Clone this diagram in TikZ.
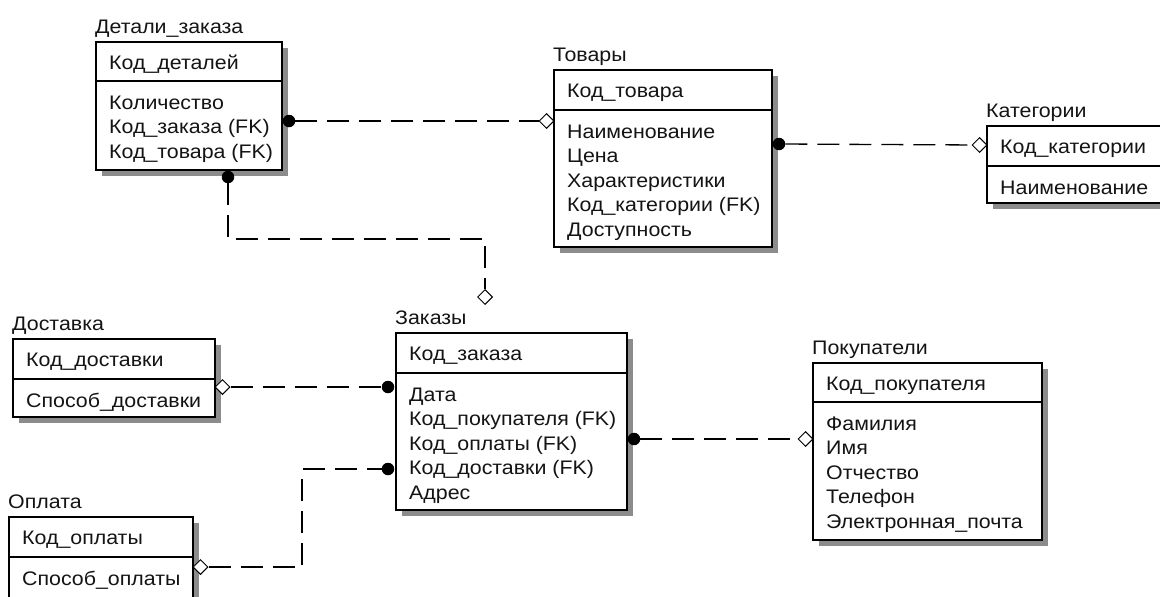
\documentclass[tikz,border=0pt]{standalone}
\usepackage{fontspec}
\newfontfamily\erfont[FakeStretch=1.09]{Liberation Sans}
\usetikzlibrary{shapes.geometric}
% #1 name, #2 left, #3 top, #4 right, #5 divider, #6 bottom, #7 title, #8 key, #9 attributes
\newcommand{\erentity}[9]{%
  \fill[eshadow] (#2+6,#3+6) rectangle (#4+6,#6+6);
  \node[ebox, minimum width={#4-#2}, minimum height={#6-#3}] (#1) at (#2,#3) {};
  \draw[eline] (#2,#5) -- (#4,#5);
  \node[etext] (#1-title) at (#2-1,#3-9) {#7};
  \node[etext] (#1-key) at (#2+13,#3+27) {#8};
  \foreach \a [count=\i from 0] in {#9}
    \node[etext] (#1-a\i) at (#2+13,{#5+28+24.5*\i}) {\a};
}
\begin{document}
\begin{tikzpicture}[x=1pt,y=-1pt,
  ebox/.style={draw=black, line width=1.1pt, fill=white, inner sep=0pt, outer sep=0pt, anchor=north west},
  eline/.style={line width=1.1pt},
  eshadow/.style={fill=black!45},
  etext/.style={anchor=base west, inner sep=0pt, font=\erfont\fontsize{19.6}{23}\selectfont, text=black!92},
  rel/.style={line width=1.3pt, dash pattern=on 22pt off 10pt},
  fkdot/.style={circle, fill=black, inner sep=0pt, minimum size=12.5pt},
  fkdia/.style={diamond, draw=black, fill=white, line width=1pt, inner sep=0pt, minimum width=15pt, minimum height=15pt, aspect=1}]
\useasboundingbox (0,0) rectangle (1160,597);

\erentity{det}{96}{42}{282}{81}{170}{Детали\_заказа}{Код\_деталей}{Количество,Код\_заказа (FK),Код\_товара (FK)}
\erentity{tov}{554}{70}{772}{110}{247}{Товары}{Код\_товара}{Наименование,Цена,Характеристики,Код\_категории (FK),Доступность}
\erentity{kat}{987}{126}{1166}{166}{203}{Категории}{Код\_категории}{Наименование}
\erentity{dos}{13}{339}{215}{379}{417}{Доставка}{Код\_доставки}{Способ\_доставки}
\erentity{zak}{396}{333}{627}{373}{510}{Заказы}{Код\_заказа}{Дата,Код\_покупателя (FK),Код\_оплаты (FK),Код\_доставки (FK),Адрес}
\erentity{pok}{813}{363}{1042}{402}{540}{Покупатели}{Код\_покупателя}{Фамилия,Имя,Отчество,Телефон,Электронная\_почта}
\erentity{opl}{9}{517}{193}{557}{610}{Оплата}{Код\_оплаты}{Способ\_оплаты}

% relationship ends
\node[fkdot] (d1) at (289,121) {};
\node[fkdia] (m1) at (546.5,121) {};
\node[fkdot] (d2) at (779,144) {};
\node[fkdia] (m2) at (979.5,145) {};
\node[fkdot] (d3) at (228,177) {};
\node[fkdia] (m3) at (485,297) {};
\node[fkdia] (m4) at (222.5,387) {};
\node[fkdot] (d4) at (388,387) {};
\node[fkdia] (m5) at (200.5,567) {};
\node[fkdot] (d5) at (388,469) {};
\node[fkdot] (d6) at (634,439) {};
\node[fkdia] (m6) at (805.5,439) {};

\coordinate (b3a) at (228,239);
\coordinate (b3b) at (485,239);
\coordinate (b5a) at (302,567);
\coordinate (b5b) at (302,469);

\draw[rel] (d1) -- (m1);
\draw[rel] (d2) -- (m2);
\draw[rel] (d3) -- (b3a) -- (b3b) -- (m3);
\draw[rel] (m4) -- (d4);
\draw[rel] (m5) -- (b5a) -- (b5b) -- (d5);
\draw[rel] (d6) -- (m6);
\end{tikzpicture}
\end{document}
